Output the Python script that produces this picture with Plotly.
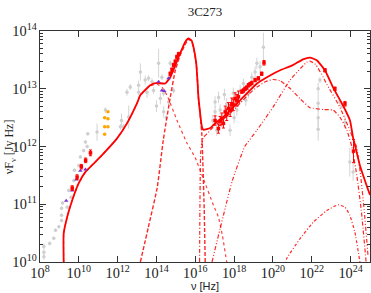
import numpy as np
import plotly.graph_objects as go

# ---- model curves (log10 nu, log10 nuFnu) ----
tot_lx = [9.22, 9.22, 9.40, 9.66, 9.99, 10.34, 11.11, 11.97, 12.48, 13.00, 13.17, 13.68, 14.03, 14.45, 14.71,
          15.14, 15.48, 15.65, 15.80, 15.91, 16.05, 16.11, 16.16, 16.25, 16.34, 16.42, 16.77, 17.02, 17.43,
          18.31, 19.18, 19.85, 20.37, 21.03, 21.55, 21.91, 22.27, 22.68, 23.10, 23.61, 23.97, 24.13, 24.30,
          24.48, 24.82, 25.0]
tot_ly = [10.0, 10.49, 10.78, 11.07, 11.36, 11.56, 11.82, 12.14, 12.40, 12.75, 12.89, 13.06, 13.10, 13.09, 13.20,
          13.55, 13.81, 13.87, 13.84, 13.72, 13.44, 13.15, 12.86, 12.57, 12.34, 12.29, 12.32, 12.40, 12.51,
          12.80, 13.09, 13.23, 13.32, 13.41, 13.51, 13.54, 13.49, 13.32, 13.02, 12.71, 12.45, 12.15, 11.92,
          11.67, 11.33, 11.16]

syn_lx = [9.22, 9.22, 9.40, 9.66, 9.99, 10.34, 11.11, 11.97, 12.48, 13.00, 13.17, 13.68, 14.03, 14.30, 14.54,
          15.05, 15.57, 15.99, 16.42, 16.94, 17.19, 17.40, 17.62]
syn_ly = [10.0, 10.49, 10.78, 11.07, 11.36, 11.56, 11.82, 12.14, 12.40, 12.75, 12.89, 13.05, 13.08, 13.02, 12.89,
          12.46, 12.06, 11.81, 11.44, 10.98, 10.78, 10.45, 10.0]

disk_lx = [13.17, 13.58, 14.04, 14.35, 14.71, 14.97, 15.22, 15.45, 15.63, 15.80, 15.91, 16.05, 16.11, 16.16,
           16.25, 16.34, 16.40, 16.46, 16.51]
disk_ly = [10.0, 10.60, 11.29, 12.11, 12.85, 13.32, 13.58, 13.75, 13.85, 13.83, 13.71, 13.43, 13.14, 12.85,
           12.55, 12.20, 11.60, 10.90, 10.0]

ssc_lx = [16.22, 16.24, 16.28, 16.40, 16.60, 17.0, 17.43, 18.0, 18.31, 18.8, 19.18, 19.6, 20.0, 20.37, 20.9,
          21.39, 21.91, 22.08, 22.59, 23.10, 23.45, 23.81, 24.07, 24.32, 24.55, 24.8]
ssc_ly = [10.0, 11.0, 11.9, 12.15, 12.22, 12.36, 12.48, 12.64, 12.75, 12.92, 13.03, 13.12, 13.16, 13.14, 13.0,
          12.83, 12.67, 12.66, 12.64, 12.63, 12.51, 12.28, 11.99, 11.5, 10.9, 10.0]

ec_lx = [16.86, 17.28, 17.9, 18.55, 19.17, 20.02, 20.88, 21.74, 21.91, 22.2, 22.59, 22.77, 23.45, 23.96, 24.31,
         24.5, 24.7, 24.9]
ec_ly = [10.0, 10.58, 11.4, 12.0, 12.28, 12.69, 13.15, 13.46, 13.48, 13.42, 13.20, 13.08, 12.68, 12.28, 11.99,
         11.55, 10.9, 10.1]

hump_lx = [20.6, 20.71, 21.39, 22.08, 22.77, 23.36, 23.71, 23.96, 24.22, 24.48]
hump_ly = [9.9, 10.06, 10.40, 10.69, 10.89, 10.99, 10.95, 10.81, 10.52, 10.0]

# ---- archival data (grey) ----
grey_lx = [8.20, 8.20, 8.20, 8.50, 8.71, 8.80, 8.97, 9.11, 9.11, 9.11, 9.16, 9.40, 9.48, 9.60, 9.74, 9.77, 10.0,
           10.08, 10.25, 10.34, 10.46, 10.43, 10.60, 10.94, 11.37, 12.14, 12.20, 12.31, 12.48, 12.57, 12.65, 13.08,
           13.08, 13.17, 13.42, 13.51, 13.59, 13.77, 13.85, 14.11, 14.20, 14.37, 14.37, 14.62, 14.28, 14.71, 14.88,
           14.97, 14.0, 14.5,
           17.02, 17.02, 17.11, 17.28, 17.37, 17.62, 17.79, 17.88, 17.96, 18.14, 18.31, 18.48, 18.74, 18.91, 19.08,
           19.17, 19.34, 19.51, 16.9, 17.2, 17.5, 18.0, 18.6,
           22.33, 22.42, 22.33, 22.33, 22.33, 23.45, 23.55, 23.71, 23.96, 24.13]
grey_ly = [10.17, 10.09, 10.27, 10.32, 10.41, 10.55, 10.61, 10.72, 10.81, 10.93, 11.02, 10.95, 11.24, 11.12, 11.41,
           11.59, 11.67, 11.82, 11.93, 12.08, 12.22, 12.00, 11.88, 12.25, 12.63, 12.34, 12.45, 12.34, 12.94, 12.51,
           13.03, 12.94, 13.06, 13.29, 13.15, 12.94, 13.18, 13.12, 12.97, 13.44, 12.83, 12.92, 12.60, 12.77, 13.20,
           13.44, 12.97, 13.38, 12.70, 12.50,
           12.77, 12.60, 12.28, 12.63, 12.45, 12.74, 12.28, 12.68, 12.92, 12.63, 12.97, 13.09, 12.92, 13.20, 13.29,
           13.44, 13.38, 13.72, 12.45, 12.85, 12.90, 12.50, 12.80,
           13.0, 13.15, 12.75, 12.5, 12.3, 12.77, 12.7, 12.42, 11.73, 11.56]
grey_err = [0.05, 0.05, 0.05, 0.03, 0.03, 0.03, 0.03, 0.03, 0.03, 0.03, 0.03, 0.03, 0.03, 0.03, 0.03, 0.03, 0.03,
            0.03, 0.03, 0.03, 0.03, 0.03, 0.03, 0.15, 0.05, 0.05, 0.12, 0.05, 0.06, 0.2, 0.05, 0.05, 0.08, 0.15,
            0.08, 0.1, 0.05, 0.06, 0.06, 0.25, 0.1, 0.05, 0.1, 0.05, 0.05, 0.05, 0.05, 0.05, 0.1, 0.05,
            0.1, 0.1, 0.1, 0.1, 0.12, 0.1, 0.1, 0.12, 0.1, 0.1, 0.1, 0.08, 0.08, 0.08, 0.1, 0.1, 0.1, 0.25, 0.1,
            0.1, 0.1, 0.1, 0.1,
            0.1, 0.05, 0.15, 0.2, 0.2, 0.05, 0.05, 0.1, 0.25, 0.15]

# ---- simultaneous data (red) ----
red_lx = [9.66, 9.91, 10.13, 10.35, 10.60,
          14.71, 14.80, 14.88, 14.97, 15.05, 15.14,
          17.02, 17.19, 17.28, 17.37, 17.45, 17.54, 17.62, 17.71, 17.80, 17.88, 17.96, 18.05, 18.14, 18.22, 18.40,
          18.48, 18.57, 18.65, 18.74, 18.82, 18.91, 19.08, 19.25, 19.42, 19.54,
          22.68, 23.19, 23.71, 24.15]
red_ly = [11.28, 11.47, 11.65, 11.76, 11.89,
          13.26, 13.33, 13.41, 13.47, 13.55, 13.60,
          12.45, 12.31, 12.44, 12.48, 12.40, 12.60, 12.55, 12.66, 12.62, 12.74, 12.72, 12.83, 12.80, 12.86, 12.95,
          12.97, 13.0, 13.02, 13.06, 13.08, 13.10, 13.15, 13.18, 13.26, 13.45,
          13.32, 13.0, 12.74, 11.92]
red_err = [0.04, 0.04, 0.04, 0.04, 0.05,
           0.03, 0.03, 0.03, 0.03, 0.03, 0.03,
           0.08, 0.08, 0.08, 0.1, 0.08, 0.1, 0.1, 0.1, 0.1, 0.1, 0.1, 0.1, 0.1, 0.1, 0.03, 0.03, 0.03, 0.03, 0.03,
           0.03, 0.03, 0.03, 0.03, 0.03, 0.04,
           0.03, 0.03, 0.04, 0.2]

purple_lx = [9.35, 9.66, 9.88, 10.08, 10.34, 14.11, 14.28, 14.40, 14.62]
purple_ly = [11.06, 11.24, 11.43, 11.58, 11.60, 13.12, 12.97, 12.96, 13.18]

orange_lx = [11.33, 11.33, 11.33, 11.50, 11.50, 11.50]
orange_ly = [12.50, 12.34, 12.21, 12.60, 12.48, 12.34]


def p(v):
    return np.power(10.0, np.asarray(v, dtype=float))


def errs(ly, e):
    y = p(ly)
    e = np.asarray(e, dtype=float)
    return y * (np.power(10.0, e) - 1), y * (1 - np.power(10.0, -e))


fig = go.Figure()

gp, gm = errs(grey_ly, grey_err)
fig.add_trace(go.Scatter(x=p(grey_lx), y=p(grey_ly), mode='markers',
                         marker=dict(color='#cfcfcf', size=3.5),
                         error_y=dict(type='data', symmetric=False, array=gp, arrayminus=gm,
                                      color='#d4d4d4', thickness=1, width=0)))

fig.add_trace(go.Scatter(x=p(orange_lx), y=p(orange_ly), mode='markers',
                         marker=dict(color='#ffa500', size=3.5)))

curve_style = [
    (syn_lx, syn_ly, 'dot', 1.2, 'rgba(255,0,0,0.75)'),
    (disk_lx, disk_ly, '4px,2px', 1.4, 'rgba(255,0,0,0.85)'),
    (ssc_lx, ssc_ly, '4px,2px,1px,2px', 1.2, 'rgba(255,0,0,0.85)'),
    (ec_lx, ec_ly, '4px,2px,1px,2px,1px,2px', 1.2, 'rgba(255,0,0,0.85)'),
    (hump_lx, hump_ly, '3px,2px,1px,2px', 1.2, 'rgba(255,0,0,0.85)'),
]
for lx, ly, dash, w, c in curve_style:
    fig.add_trace(go.Scatter(x=p(lx), y=p(ly), mode='lines',
                             line=dict(color=c, width=w, dash=dash, shape='spline', smoothing=0.4)))

fig.add_trace(go.Scatter(x=p(tot_lx), y=p(tot_ly), mode='lines',
                         line=dict(color='#ff0000', width=1.8, shape='spline', smoothing=0.4)))

fig.add_trace(go.Scatter(x=p(purple_lx), y=p(purple_ly), mode='markers',
                         marker=dict(color='#7b2fd0', size=4, symbol='triangle-up')))

rp, rm = errs(red_ly, red_err)
fig.add_trace(go.Scatter(x=p(red_lx), y=p(red_ly), mode='markers',
                         marker=dict(color='#ff0000', size=3.5, symbol='square'),
                         error_y=dict(type='data', symmetric=False, array=rp, arrayminus=rm,
                                      color='#ff0000', thickness=1, width=1.5)))

serif = 'Liberation Serif'
sans = 'Liberation Sans'

fig.update_layout(
    width=371, height=293,
    margin=dict(l=40, r=1, t=31, b=31, autoexpand=False),
    paper_bgcolor='white', plot_bgcolor='white',
    showlegend=False,
    title=dict(text='3C273', x=0.5, xref='paper', y=1 - 11 / 293, yref='container',
               xanchor='center', yanchor='middle', font=dict(family=serif, size=13, color='#222')),
    xaxis=dict(type='log', range=[8, 25], dtick=2, ticks='inside', ticklen=6, tickcolor='#333',
               mirror='allticks', showline=True, linecolor='#333', linewidth=1, showgrid=False,
               zeroline=False, exponentformat='power', automargin=False, ticklabelstandoff=-2,
               tickfont=dict(family=serif, size=11.5, color='#222')),
    yaxis=dict(type='log', range=[10, 14], dtick=1, ticks='inside', ticklen=6, tickcolor='#333',
               mirror='allticks', showline=True, linecolor='#333', linewidth=1, showgrid=False,
               zeroline=False, exponentformat='power', automargin=False,
               minor=dict(ticks='inside', ticklen=3, dtick='D1', tickcolor='#333', showgrid=False),
               tickfont=dict(family=serif, size=11.5, color='#222')),
    annotations=[
        dict(text='ν [Hz]', x=0.5, y=-0.105, xref='paper', yref='paper', xanchor='center',
             yanchor='middle', showarrow=False, font=dict(family=sans, size=11, color='#222')),
        dict(text='νF<sub>ν</sub> [Jy Hz]', x=-0.092, y=0.5, xref='paper', yref='paper', xanchor='center',
             yanchor='middle', textangle=-90, showarrow=False, font=dict(family=serif, size=12, color='#222')),
    ],
)

fig.write_html('out.html', config={'displayModeBar': False},
               post_script="document.body.style.margin='0px';document.body.style.overflow='hidden';")
